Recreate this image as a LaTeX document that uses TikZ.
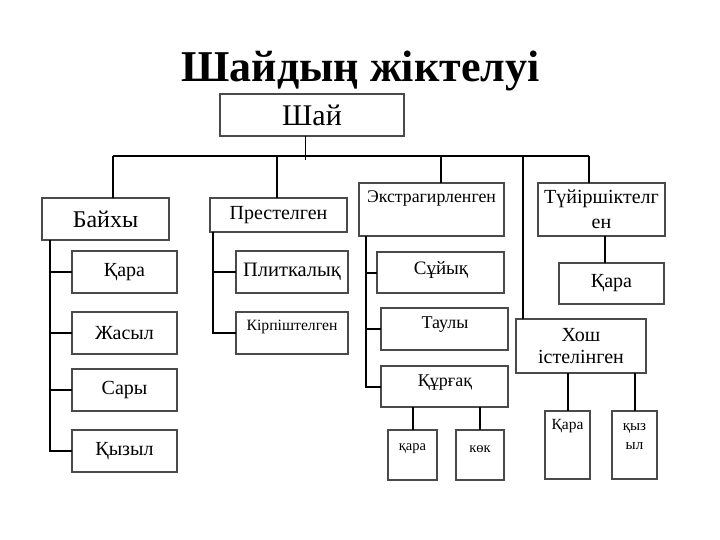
\documentclass[tikz,border=0pt]{standalone}
\usepackage{fontspec}
\setmainfont{Liberation Serif}
\definecolor{boxgray}{HTML}{4A4A4A}
\newcommand\fs[1]{\fontsize{#1}{#1}\selectfont}
\newcommand\bxx[7]{\node[box,#6,minimum width={(#4-#2)*1pt},minimum height={(#5-#3)*1pt}] (#1) at (#2,#3) {#7};}
\begin{document}
\begin{tikzpicture}[x=1pt,y=-1pt,
  box/.style={draw=boxgray, line width=1.2pt, inner sep=0pt, outer sep=0pt, align=center, anchor=north west},
  conn/.style={draw=black, line width=2pt},
  txt/.style={inner sep=0pt, align=center}]
\useasboundingbox[fill=white] (0,0) rectangle (720,540);
\node[font=\fs{44}\bfseries, anchor=base, inner sep=0pt] (title) at (360.5,82) {Шайдың жіктелуі};
% top
\bxx{shai}{220}{94}{404}{136}{font=\fs{30}}{Шай}
% level 1
\bxx{bayhy}{42}{198}{169}{240}{font=\fs{24}}{Байхы}
\bxx{prest}{210}{198}{347}{232}{font=\fs{20}}{Престелген}
\bxx{extr}{359}{183}{504}{236}{}{}
\node[txt, font=\fs{17.8}] (extrT) at (431.5,199) {Экстрагирленген};
\bxx{tuyir}{538}{183}{665}{236}{font={\fontsize{20}{25}\selectfont}}{Түйіршіктелг\\ен}
% Bayhy children
\bxx{k1}{72}{251}{177}{293}{font=\fs{20}}{Қара}
\bxx{jas}{72}{312}{177}{354}{font=\fs{20}}{Жасыл}
\bxx{sary}{72}{369}{177}{411}{font=\fs{20}}{Сары}
\bxx{qyz}{72}{430}{177}{472}{font=\fs{20}}{Қызыл}
% Prest children
\bxx{plit}{236}{251}{348}{293}{font=\fs{20.5}}{Плиткалық}
\bxx{kirp}{236}{312}{348}{354}{}{}
\node[txt, font=\fs{15.7}] (kirpT) at (292,327) {Кірпіштелген};
% Extr children
\bxx{suy}{377}{252}{504}{293}{}{}
\node[txt, font=\fs{19}] (suyT) at (441,270) {Сұйық};
\bxx{taul}{381}{308}{508}{350}{}{}
\node[txt, font=\fs{18}] (taulT) at (445,325) {Таулы};
\bxx{kurg}{381}{366}{508}{407}{}{}
\node[txt, font=\fs{18}] (kurgT) at (445,383) {Құрғақ};
\bxx{k6}{388}{430}{437}{480}{}{}
\node[txt, font=\fs{14.5}] (k6T) at (412.5,449) {қара};
\bxx{kok}{456}{430}{504}{480}{}{}
\node[txt, font=\fs{14.5}] (kokT) at (480,449) {көк};
% Tuyir child
\bxx{k5}{559}{263}{664}{304}{font=\fs{20}}{Қара}
% Khosh
\bxx{khosh}{516}{319}{646}{373}{font={\fontsize{20}{22}\selectfont}}{Хош\\істелінген}
\bxx{k7}{545}{411}{590}{479}{}{}
\node[txt, font=\fs{15.5}] (k7T) at (567.5,426) {Қара};
\bxx{qz}{612}{411}{657}{479}{}{}
\node[txt, font={\fontsize{15}{19}\selectfont}] (qzT) at (634.5,437) {қыз\\ыл};
% connectors
\coordinate (b0) at (305,160);
\coordinate (b1) at (113,156);
\coordinate (b2) at (277,156);
\coordinate (b3) at (441,156);
\coordinate (b4) at (523,156);
\coordinate (b5) at (589,156);
\draw[black, line width=1pt] (b0 |- shai.south) -- (b0);
\draw[conn] (b1) -- (b5);
\draw[conn] (b1) -- (b1 |- bayhy.north);
\draw[conn] (b2) -- (b2 |- prest.north);
\draw[conn] (b3) -- (b3 |- extr.north);
\draw[conn] (b4) -- (b4 |- khosh.north);
\draw[conn] (b5) -- (b5 |- tuyir.north);
\coordinate (t1) at (50,0);
\draw[conn] (t1 |- bayhy.south) -- (t1 |- qyz.west) -- (qyz.west);
\draw[conn] (t1 |- k1.west) -- (k1.west);
\draw[conn] (t1 |- jas.west) -- (jas.west);
\draw[conn] (t1 |- sary.west) -- (sary.west);
\coordinate (t2) at (213,0);
\draw[conn] (t2 |- prest.south) -- (t2 |- kirp.west) -- (kirp.west);
\draw[conn] (t2 |- plit.west) -- (plit.west);
\coordinate (t3) at (366,0);
\draw[conn] (t3 |- extr.south) -- (t3 |- kurg.west) -- (kurg.west);
\draw[conn] (t3 |- suy.west) -- (suy.west);
\draw[conn] (t3 |- taul.west) -- (taul.west);
\coordinate (v5) at (605,0);
\draw[conn] (v5 |- tuyir.south) -- (v5 |- k5.north);
\draw[conn] (kurg.south -| k6.north) -- (k6.north);
\draw[conn] (kurg.south -| kok.north) -- (kok.north);
\draw[conn] (khosh.south -| k7.north) -- (k7.north);
\draw[conn] (khosh.south -| qz.north) -- (qz.north);
\end{tikzpicture}
\end{document}
